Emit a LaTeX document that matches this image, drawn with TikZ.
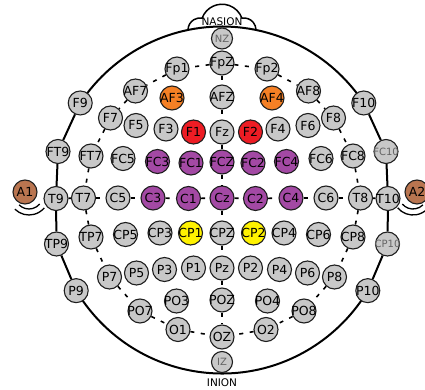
\documentclass[tikz,border=0pt]{standalone}
\usepackage{fontspec}
\setmainfont{DejaVu Sans}
\definecolor{elgray}{RGB}{200,200,200}
\definecolor{elorange}{RGB}{245,128,37}
\definecolor{elred}{RGB}{237,28,36}
\definecolor{elpurple}{RGB}{163,73,164}
\definecolor{elyellow}{RGB}{255,242,0}
\definecolor{elbrown}{RGB}{185,117,80}
\definecolor{eledge}{RGB}{30,30,30}
\definecolor{eldim}{RGB}{100,100,100}
\tikzset{
  elec/.style={circle, draw=eledge, line width=1.1pt, fill=elgray, minimum size=24pt,
    inner sep=-3pt, text=black, font=\fontsize{12.5}{12.5}\selectfont},
  smallelec/.style={elec, minimum size=21pt, text=eldim, font=\fontsize{10}{10}\selectfont},
  dimelec/.style={elec, text=eldim, font=\fontsize{10}{10}\selectfont},
  orangeel/.style={elec, fill=elorange},
  redel/.style={elec, fill=elred},
  purpleel/.style={elec, fill=elpurple},
  yellowel/.style={elec, fill=elyellow},
  brownel/.style={elec, fill=elbrown},
  headline/.style={line width=2pt, draw=black},
  sideline/.style={line width=2pt, draw=black},
  ringline/.style={line width=1.6pt, draw=black, dash pattern=on 4pt off 6.5pt},
  earline/.style={line width=1.3pt, draw=black},
  caption/.style={font=\fontsize{10.5}{10.5}\selectfont, inner sep=0pt}
}
\begin{document}
\begin{tikzpicture}[x=1pt,y=1pt]
\useasboundingbox (-222,-190) rectangle (203,200);
% head outline
\draw[headline] (146:171pt and 173.5pt) arc[start angle=146,end angle=34,x radius=171pt,y radius=173.5pt];
\draw[headline] (211.5:171pt and 173.5pt) arc[start angle=211.5,end angle=328.5,x radius=171pt,y radius=173.5pt];
% nose
\draw[line width=1.5pt] (-34,170) arc[start angle=180,end angle=80,radius=12pt]
  arc[start angle=160,end angle=20,radius=21.2pt]
  arc[start angle=100,end angle=0,radius=12pt];
\node[caption] (nasion) at (0,178.5) {NASION};
\node[caption] (inion) at (0,-183) {INION};
% ears
\draw[earline] (-193,5) ++(225:20pt) arc[start angle=225,end angle=320,radius=20pt];
\draw[earline] (-193,5) ++(225:14pt) arc[start angle=225,end angle=320,radius=14pt];
\draw[earline] (191,5) ++(220:20pt) arc[start angle=220,end angle=315,radius=20pt];
\draw[earline] (191,5) ++(220:14pt) arc[start angle=220,end angle=315,radius=14pt];
% electrodes
\node[smallelec] (NZ) at (0,161.5) {NZ};
\node[elec] (FpZ) at (0,137) {FpZ};
\node[elec] (Fp1) at (-45,131) {Fp1};
\node[elec] (Fp2) at (45,131) {Fp2};
\node[elec] (AF7) at (-86.5,109) {AF7};
\node[elec] (AF8) at (86.5,109) {AF8};
\node[orangeel] (AF3) at (-50,102) {AF3};
\node[orangeel] (AF4) at (50,102) {AF4};
\node[elec] (AFZ) at (0,103) {AFZ};
\node[elec] (F9) at (146:171pt and 173.5pt) {F9};
\node[elec] (F10) at (34:171pt and 173.5pt) {F10};
\node[elec] (F7) at (-111.5,82) {F7};
\node[elec] (F8) at (111.5,82) {F8};
\node[elec] (F5) at (-86,74.5) {F5};
\node[elec] (F6) at (86,74.5) {F6};
\node[elec] (F3) at (-56,71) {F3};
\node[elec] (F4) at (56,71) {F4};
\node[redel] (F1) at (-28.5,68) {F1};
\node[redel] (F2) at (28.5,68) {F2};
\node[elec] (Fz) at (0,68) {Fz};
\node[elec] (FT9) at (-164,48.5) {FT9};
\node[dimelec] (FC10) at (164,48.5) {FC10};
\node[elec] (FT7) at (-131,44) {FT7};
\node[elec] (FC8) at (131,44) {FC8};
\node[elec] (FC5) at (-99,41.5) {FC5};
\node[elec] (FC6) at (99,41.5) {FC6};
\node[purpleel] (FC3) at (-64.5,38.5) {FC3};
\node[purpleel] (FC4) at (64.5,38.5) {FC4};
\node[purpleel] (FC1) at (-31,37) {FC1};
\node[purpleel] (FC2) at (31,37) {FC2};
\node[purpleel] (FCZ) at (0,38) {FCZ};
\node[brownel] (A1) at (-197,8) {A1};
\node[brownel] (A2) at (195,8) {A2};
\node[elec] (T9) at (-166,1.5) {T9};
\node[elec] (T10) at (166,1.5) {T10};
\node[elec] (T7) at (-138.5,2) {T7};
\node[elec] (T8) at (138.5,2) {T8};
\node[elec] (C5) at (-104,2) {C5};
\node[elec] (C6) at (104,2) {C6};
\node[purpleel] (C3) at (-69,2) {C3};
\node[purpleel] (C4) at (69,2) {C4};
\node[purpleel] (C1) at (-33.5,1.5) {C1};
\node[purpleel] (C2) at (33.5,1.5) {C2};
\node[purpleel] (Cz) at (0,2) {Cz};
\node[elec] (TP9) at (-165.5,-44) {TP9};
\node[dimelec] (CP10) at (165.5,-44) {CP10};
\node[elec] (TP7) at (-131,-37) {TP7};
\node[elec] (CP8) at (131,-37) {CP8};
\node[elec] (CP5) at (-96.5,-34.5) {CP5};
\node[elec] (CP6) at (96.5,-34.5) {CP6};
\node[elec] (CP3) at (-62,-33) {CP3};
\node[elec] (CP4) at (62,-33) {CP4};
\node[yellowel] (CP1) at (-31.5,-33) {CP1};
\node[yellowel] (CP2) at (31.5,-33) {CP2};
\node[elec] (CPZ) at (0,-33) {CPZ};
\node[elec] (P9) at (211.5:171pt and 173.5pt) {P9};
\node[elec] (P10) at (328.5:171pt and 173.5pt) {P10};
\node[elec] (P7) at (-112.5,-77) {P7};
\node[elec] (P8) at (112.5,-77) {P8};
\node[elec] (P5) at (-85.5,-73) {P5};
\node[elec] (P6) at (85.5,-73) {P6};
\node[elec] (P3) at (-57.5,-69.5) {P3};
\node[elec] (P4) at (57.5,-69.5) {P4};
\node[elec] (P1) at (-28.5,-68) {P1};
\node[elec] (P2) at (28.5,-68) {P2};
\node[elec] (Pz) at (0,-68) {Pz};
\node[elec] (PO7) at (-82,-111) {PO7};
\node[elec] (PO8) at (82,-111) {PO8};
\node[elec] (PO3) at (-45.5,-101) {PO3};
\node[elec] (PO4) at (45.5,-101) {PO4};
\node[elec] (POZ) at (0,-100) {POZ};
\node[elec] (O1) at (-44,-129.5) {O1};
\node[elec] (O2) at (44,-129.5) {O2};
\node[elec] (OZ) at (0,-137) {OZ};
\node[smallelec] (IZ) at (0,-162) {IZ};
% side outline segments
\draw[sideline] (F9) -- (FT9) -- (T9) -- (TP9) -- (P9);
\draw[sideline] (F10) -- (FC10) -- (T10) -- (CP10) -- (P10);
% inner ring and midlines
\foreach \a/\b in {FpZ/Fp1, Fp1/AF7, AF7/F7, F7/FT7, FT7/T7, T7/TP7, TP7/P7, P7/PO7, PO7/O1, O1/OZ,
                   FpZ/Fp2, Fp2/AF8, AF8/F8, F8/FC8, FC8/T8, T8/CP8, CP8/P8, P8/PO8, PO8/O2, O2/OZ,
                   FpZ/AFZ, AFZ/Fz, Fz/FCZ, FCZ/Cz, Cz/CPZ, CPZ/Pz, Pz/POZ, POZ/OZ,
                   T9/T7, T7/C5, C5/C3, C3/C1, C1/Cz, Cz/C2, C2/C4, C4/C6, C6/T8, T8/T10}
  \draw[ringline] (\a) -- (\b);
\end{tikzpicture}
\end{document}
